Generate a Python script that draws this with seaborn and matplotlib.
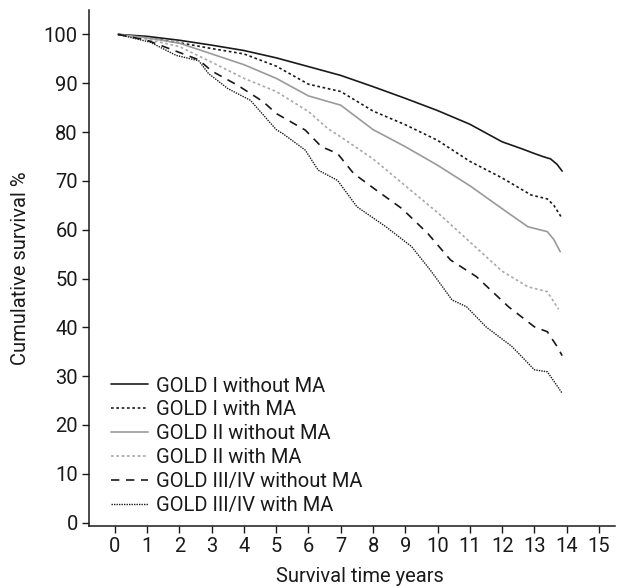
import numpy as np
import pandas as pd
import matplotlib
matplotlib.use("Agg")
import matplotlib.pyplot as plt
import seaborn as sns

# ---- data ----
labels = ["GOLD I without MA", "GOLD I with MA", "GOLD II without MA",
          "GOLD II with MA", "GOLD III/IV without MA", "GOLD III/IV with MA"]

t_g1_wo = [0.1, 1, 2, 3, 4, 5, 6, 7, 8, 9, 10, 11, 12, 12.6, 13, 13.3, 13.5, 13.7, 13.86]
s_g1_wo = [100, 99.6, 98.8, 97.8, 96.7, 95.2, 93.4, 91.6, 89.3, 86.9, 84.4, 81.6, 78.0, 76.6, 75.6, 74.9, 74.5, 73.4, 72.0]

t_g1_w = [0.1, 1, 2, 3, 4, 5, 6, 7, 8, 9, 10, 11, 12, 12.9, 13.4, 13.6, 13.86]
s_g1_w = [100, 99.3, 98.3, 97.1, 96.0, 93.5, 89.8, 88.3, 84.3, 81.5, 78.3, 74.0, 70.6, 67.1, 66.3, 65.0, 62.3]

t_g2_wo = [0.1, 1, 2, 3, 4, 5, 6, 7, 8, 9, 10, 11, 12, 12.8, 13.4, 13.6, 13.8]
s_g2_wo = [100, 99.3, 98.2, 96.0, 93.8, 91.0, 87.4, 85.5, 80.5, 77.0, 73.2, 69.0, 64.3, 60.6, 59.6, 58.0, 55.5]

t_g2_w = [0.1, 1, 2, 3, 4, 5, 6, 6.6, 7, 7.6, 8, 9, 10, 11, 12, 12.8, 13.4, 13.75]
s_g2_w = [100, 99.0, 97.5, 94.3, 91.0, 88.3, 84.2, 80.7, 79.0, 76.3, 74.5, 69.0, 63.5, 57.5, 51.5, 48.3, 47.3, 43.7]

t_g3_wo = [0.1, 1, 2, 2.6, 3, 3.8, 4.6, 5.0, 5.9, 6.4, 6.9, 7.4, 8.1, 8.9, 9.7, 10.4, 11.2, 12.2, 13.0, 13.4, 13.7, 13.86]
s_g3_wo = [100, 98.8, 96.3, 94.8, 92.5, 89.6, 86.2, 83.8, 80.4, 77.0, 75.6, 71.5, 68.1, 64.3, 59.2, 53.8, 50.4, 44.2, 40.1, 39.1, 36.1, 34.2]

t_g3_w = [0.1, 1.1, 1.9, 2.6, 2.9, 3.5, 4.2, 5.0, 5.2, 5.9, 6.3, 6.9, 7.5, 8.4, 9.2, 9.8, 10.45, 10.9, 11.5, 12.3, 13.0, 13.4, 13.86]
s_g3_w = [100, 98.4, 95.7, 94.6, 92.0, 88.9, 86.5, 80.5, 79.7, 76.3, 72.2, 70.1, 64.7, 60.6, 56.5, 51.5, 45.6, 44.2, 40.1, 36.1, 31.3, 30.9, 26.5]

series_t = [t_g1_wo, t_g1_w, t_g2_wo, t_g2_w, t_g3_wo, t_g3_w]
series_s = [s_g1_wo, s_g1_w, s_g2_wo, s_g2_w, s_g3_wo, s_g3_w]

x_ticks = list(range(0, 16))
y_ticks = list(range(0, 101, 10))

df = pd.concat([pd.DataFrame({"t": t, "s": s, "group": lab})
                for t, s, lab in zip(series_t, series_s, labels)], ignore_index=True)

# ---- style ----
sns.set_theme(style="ticks")
plt.rcParams["font.family"] = ["Roboto", "DejaVu Sans"]
FS = 14.5
plt.rcParams["font.size"] = FS
TXT = "#1a1a1a"

palette = {labels[0]: "#1a1a1a", labels[1]: "#1a1a1a", labels[2]: "#9a9a9a",
           labels[3]: "#a8a8a8", labels[4]: "#1a1a1a", labels[5]: "#1a1a1a"}
dashes = {labels[0]: "", labels[1]: (1.6, 1.6), labels[2]: "",
          labels[3]: (1.6, 1.6), labels[4]: (5, 4), labels[5]: (1, 0.8)}
widths = [1.2, 1.2, 1.2, 1.2, 1.2, 1.0]

fig = plt.figure(figsize=(6.27, 5.88), dpi=100)
ax = fig.add_axes([0.142, 0.1054, 0.839, 0.8776])

sns.lineplot(data=df, x="t", y="s", hue="group", style="group", palette=palette,
             dashes=dashes, hue_order=labels, style_order=labels, sort=False,
             estimator=None, ax=ax, legend="brief")

for line, lw in zip(ax.get_lines()[:6], widths):
    line.set_linewidth(lw)

handles, labs = ax.get_legend_handles_labels()
for h, lw in zip(handles, widths):
    h.set_linewidth(lw)
ax.legend(handles, labs, frameon=False, loc="lower left",
          bbox_to_anchor=(0.042, 0.022), borderpad=0, borderaxespad=0,
          handlelength=1.85, handletextpad=0.4, labelspacing=0.24,
          prop={"size": FS}, labelcolor=TXT)

ax.set_xlim(-0.8, 15.5)
ax.set_ylim(-0.7, 105)
ax.set_xticks(x_ticks)
ax.set_yticks(y_ticks)
ax.tick_params(direction="out", length=5, width=1, colors=TXT,
               labelsize=FS, pad=3)
for sp in ["top", "right"]:
    ax.spines[sp].set_visible(False)
for sp in ["left", "bottom"]:
    ax.spines[sp].set_linewidth(1.1)
    ax.spines[sp].set_color(TXT)

ax.set_xlabel("Survival time years", fontsize=FS, color=TXT)
ax.set_ylabel("Cumulative survival %", fontsize=FS, color=TXT)
ax.xaxis.set_label_coords(0.515, -0.08)
ax.yaxis.set_label_coords(-0.112, 0.5)

fig.savefig("out.png", dpi=100)
